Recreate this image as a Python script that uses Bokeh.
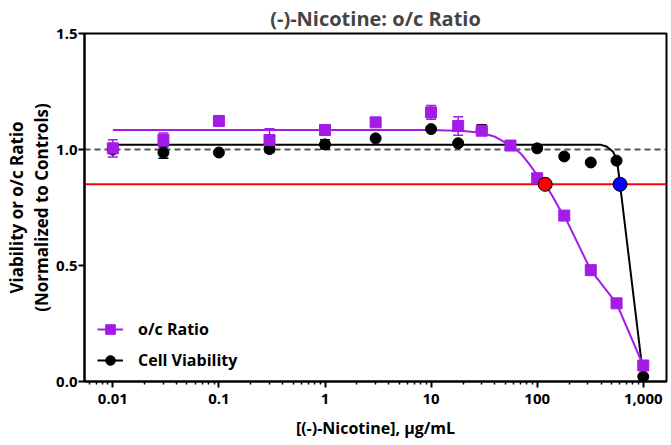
from bokeh.plotting import figure
from bokeh.models import (Range1d, FixedTicker, NumeralTickFormatter, Span, Whisker,
                          TeeHead, ColumnDataSource, Legend, LegendItem, Title, LinearAxis)
from bokeh.embed import file_html
from bokeh.resources import INLINE

FONT = "Open Sans"
PURPLE = "#A21CE6"

# ---- data ----
conc = [0.01, 0.03, 0.1, 0.3, 1, 3, 10, 18, 30, 56, 100, 180, 320, 560, 1000]
oc_ratio = [1.005, 1.041, 1.123, 1.041, 1.084, 1.117, 1.16, 1.101, 1.081, 1.017,
            0.876, 0.715, 0.48, 0.337, 0.069]
oc_err = [0.037, 0.03, 0.0, 0.048, 0.0, 0.0, 0.03, 0.04, 0.0, 0.0,
          0.0, 0.0, 0.0, 0.0, 0.0]

via_conc = [0.01, 0.03, 0.1, 0.3, 1, 3, 10, 18, 30, 100, 180, 320, 560, 1000]
viability = [1.0, 0.987, 0.987, 1.002, 1.022, 1.048, 1.088, 1.027, 1.085, 1.005,
             0.97, 0.944, 0.952, 0.021]
via_err = [0.0, 0.025, 0.0, 0.015, 0.02, 0.0, 0.0, 0.0, 0.022, 0.0,
           0.0, 0.0, 0.0, 0.0]

# fitted curves (nodes)
oc_fit_x = [0.01, 10, 20, 30, 40, 56, 70, 85, 100, 119, 141, 162, 180, 320, 560, 1000]
oc_fit_y = [1.084, 1.084, 1.08, 1.072, 1.055, 1.017, 0.983, 0.935, 0.89, 0.85,
            0.795, 0.745, 0.715, 0.48, 0.337, 0.069]
via_fit_x = [0.01, 400, 450, 520, 565, 604, 1000]
via_fit_y = [1.02, 1.02, 1.013, 0.99, 0.955, 0.85, 0.02]

threshold = 0.85
control = 1.0
ic_x = [119, 604]
ic_y = [0.85, 0.85]
ic_colors = ["#FF0000", "#0000FF"]

x_ticks = [0.01, 0.1, 1, 10, 100, 1000]
y_ticks = [0, 0.5, 1.0, 1.5]

p = figure(width=671, height=445, x_axis_type="log",
           x_range=Range1d(10 ** -2.267, 10 ** 3.219), y_range=Range1d(0, 1.5),
           output_backend="svg", toolbar_location=None,
           min_border_left=84, min_border_right=5, min_border_top=32, min_border_bottom=64)
p.title = Title(text="(-)-Nicotine: o/c Ratio", align="center", text_font=FONT,
                text_font_size="20px", text_font_style="bold", standoff=4, offset=0)

p.xgrid.visible = False
p.ygrid.visible = False
p.outline_line_color = "black"
p.outline_line_width = 2
p.background_fill_color = "white"
p.border_fill_color = "white"

minor = [m * 10 ** e for e in range(-3, 3) for m in range(2, 10)]
minor = [v for v in minor if v >= 0.006]
p.xaxis.ticker = FixedTicker(ticks=x_ticks, minor_ticks=minor)
p.xaxis.formatter = NumeralTickFormatter(format="0,0.[00]")
p.yaxis.ticker = FixedTicker(ticks=y_ticks)
p.yaxis.formatter = NumeralTickFormatter(format="0.0")

for ax in (p.xaxis[0], p.yaxis[0]):
    ax.axis_line_width = 2
    ax.axis_line_color = "black"
    ax.major_tick_line_width = 2
    ax.major_tick_line_color = "black"
    ax.major_tick_out = 6
    ax.major_tick_in = 0
    ax.major_label_text_font = FONT
    ax.major_label_text_font_style = "bold"
    ax.major_label_text_font_size = "15px"
    ax.major_label_text_color = "black"
    ax.axis_label_text_font = FONT
    ax.axis_label_text_font_style = "bold"
    ax.axis_label_text_font_size = "16px"
    ax.axis_label_text_color = "black"

p.xaxis.minor_tick_line_width = 1.5
p.xaxis.minor_tick_line_color = "black"
p.xaxis.minor_tick_out = 3
p.xaxis.minor_tick_in = 0
p.yaxis.minor_tick_line_color = None
p.xaxis.major_label_standoff = 6
p.yaxis.major_label_standoff = 1
p.xaxis.axis_label = "[(-)-Nicotine], \u03bcg/mL"
p.xaxis.axis_label_standoff = 10
p.yaxis.axis_label = "(Normalized to Controls)"
p.yaxis.axis_label_text_font_size = "17px"
p.yaxis.axis_label_standoff = 0

# outer left axis carrying the first line of the y title
y2 = LinearAxis(ticker=FixedTicker(ticks=[]), axis_label="Viability or o/c Ratio",
                axis_line_color=None, major_tick_line_color=None,
                minor_tick_line_color=None, major_tick_out=0, minor_tick_out=0,
                major_tick_in=0, minor_tick_in=0,
                major_label_standoff=0, axis_label_standoff=0,
                major_label_text_font_size="0px",
                axis_label_text_font=FONT, axis_label_text_font_style="bold",
                axis_label_text_font_size="17px", axis_label_text_color="black")
p.add_layout(y2, "left")

# reference lines
p.add_layout(Span(location=control, dimension="width", line_color="#555555",
                  line_width=2, line_dash="6 4", level="underlay"))
p.add_layout(Span(location=threshold, dimension="width", line_color="#FF0000",
                  line_width=2, level="underlay"))

# error bars
oc_src = ColumnDataSource(dict(x=conc, y=oc_ratio,
                               up=[v + e for v, e in zip(oc_ratio, oc_err)],
                               lo=[v - e for v, e in zip(oc_ratio, oc_err)]))
via_src = ColumnDataSource(dict(x=via_conc, y=viability,
                                up=[v + e for v, e in zip(viability, via_err)],
                                lo=[v - e for v, e in zip(viability, via_err)]))

p.add_layout(Whisker(source=via_src, base="x", upper="up", lower="lo",
                     line_color="black", line_width=1.5, level="underlay",
                     upper_head=TeeHead(size=10, line_color="black", line_width=1.5),
                     lower_head=TeeHead(size=10, line_color="black", line_width=1.5)))

# fit curves
via_line = p.line(via_fit_x, via_fit_y, line_color="black", line_width=2)
oc_line = p.line(oc_fit_x, oc_fit_y, line_color=PURPLE, line_width=2)

via_pts = p.scatter("x", "y", source=via_src, marker="circle", size=11,
                    fill_color="black", line_color="black")

p.add_layout(Whisker(source=oc_src, base="x", upper="up", lower="lo",
                     line_color=PURPLE, line_width=1.5,
                     upper_head=TeeHead(size=10, line_color=PURPLE, line_width=1.5),
                     lower_head=TeeHead(size=10, line_color=PURPLE, line_width=1.5)))

oc_pts = p.scatter("x", "y", source=oc_src, marker="square", size=11,
                   fill_color=PURPLE, line_color=PURPLE)

p.scatter(ic_x, ic_y, marker="circle", size=14, fill_color=ic_colors,
          line_color="black", line_width=1)

legend = Legend(items=[LegendItem(label="o/c Ratio", renderers=[oc_line, oc_pts]),
                       LegendItem(label="Cell Viability", renderers=[via_line, via_pts])],
                location=(13, 9), orientation="vertical",
                background_fill_alpha=0, border_line_color=None,
                label_text_font=FONT, label_text_font_style="bold",
                label_text_font_size="16px", label_text_color="black",
                glyph_width=26, glyph_height=24, label_standoff=15,
                spacing=7, padding=0, margin=0, label_height=24)
p.add_layout(legend)

open("out.html", "w").write(file_html(p, INLINE))
